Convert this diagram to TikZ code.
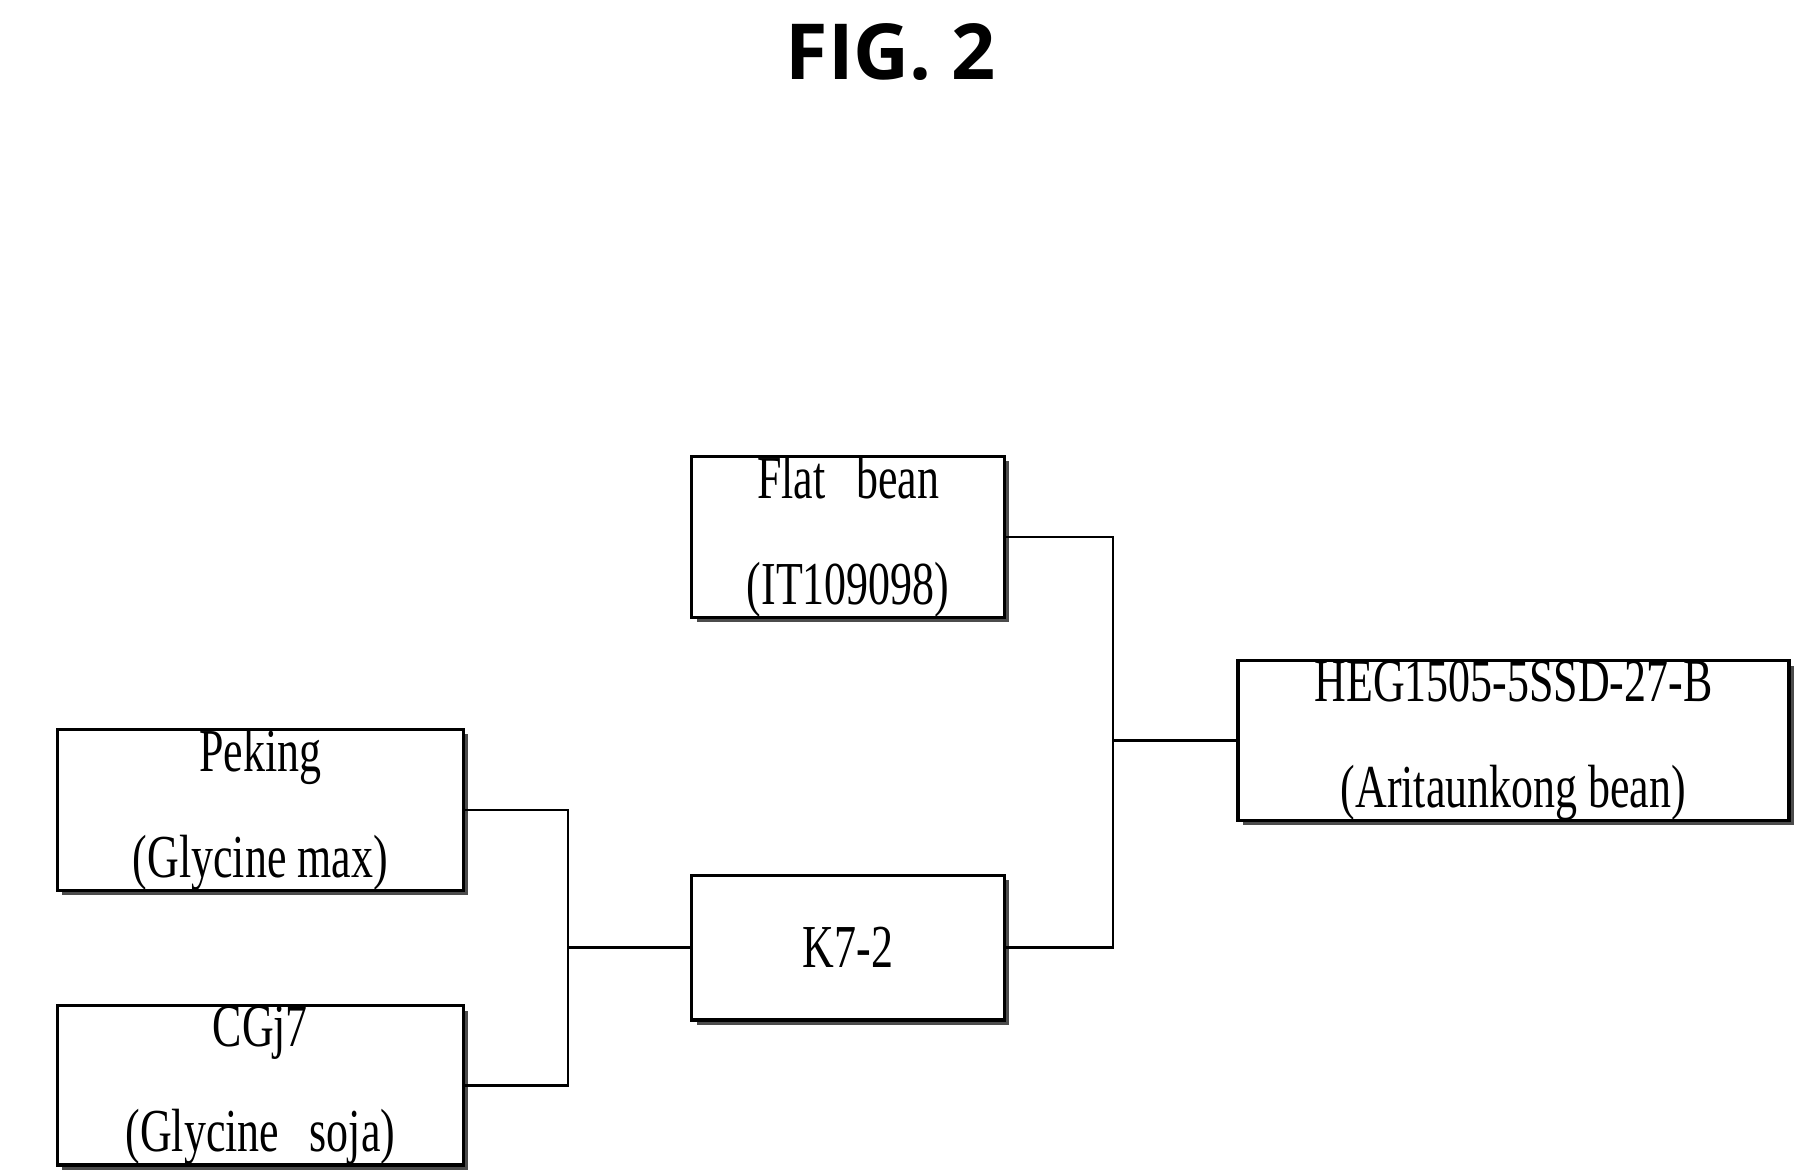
\documentclass[tikz,border=0pt]{standalone}
\usepackage{fontspec}
\setmainfont{Liberation Serif}[FakeStretch=0.72]
\newfontfamily\titlefont{Open Sans}
\usetikzlibrary{positioning,shadows}

\begin{document}
\begin{tikzpicture}[x=0.01cm,y=-0.01cm,
      strainbox/.style={
         rectangle,
         draw=black,
         thick,
         fill=white,
         align=center,
         inner sep=0pt,
         minimum height=1.25cm,
         drop shadow={shadow xshift=1.2pt,shadow yshift=-1.2pt,fill=black!70,opacity=1},
         font=\fontsize{15}{26}\selectfont},
      link/.style={semithick}
      ]
      \useasboundingbox (0,0) rectangle (1560,1015);
      \node[font=\titlefont\bfseries\fontsize{19}{22}\selectfont] (title) at (770,45) {FIG. 2};

      \node[strainbox,minimum width=2.7cm] (flat) at (733,464) {Flat\enspace bean\\(IT109098)};
      \node[strainbox,minimum width=2.7cm] (k72) at (733,819) {K7-2};
      \node[strainbox,minimum width=4.76cm] (heg) at (1308,640) {HEG1505-5SSD-27-B\\(Aritaunkong bean)};
      \node[strainbox,minimum width=3.51cm] (peking) at (225,700) {Peking\\(Glycine max)};
      \node[strainbox,minimum width=3.51cm] (cgj) at (225,938) {CGj7\\(Glycine\enspace soja)};

      \coordinate (j1) at (491,819);
      \coordinate (j2) at (962,640);

      \draw[link] (peking.east) -| (j1) |- (cgj.east);
      \draw[link] (j1) -- (k72.west);
      \draw[link] (flat.east) -| (j2) |- (k72.east);
      \draw[link] (j2) -- (heg.west);
\end{tikzpicture}
\end{document}
